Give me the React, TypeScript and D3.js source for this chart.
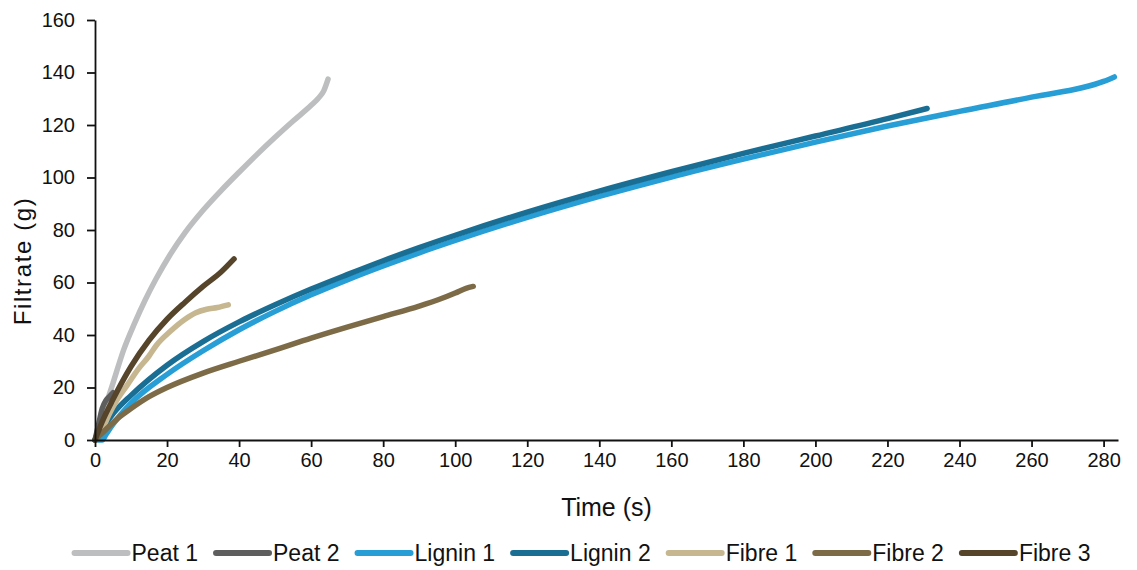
import { useEffect, useRef } from 'react'
import * as d3 from 'd3'

// time (s) / filtrate (g) readings per run
const peat1: [number, number][] = [
  [0, 0], [2, 9], [5, 21.7], [8, 34.5], [11, 44.5], [14, 53.5], [17, 61.5], [20.8, 70.5], [25, 79],
  [30, 87.5], [35, 95], [40, 102], [45, 108.8], [50, 115.3], [55, 121.5], [60, 127.5], [62, 130.2],
  [63.5, 133], [64.7, 137.5],
]
const peat2: [number, number][] = [
  [0, 0], [1, 6], [2, 12], [3, 15], [4, 16.5], [5, 18],
]
const lignin1: [number, number][] = [
  [0, 0], [2, 0], [3, 2], [5, 6], [10, 14], [20, 25], [30, 34], [40, 42], [50, 49], [60, 55.3],
  [70, 61], [80, 66.3], [90, 71.3], [100, 76], [120, 84.8], [140, 92.8], [160, 100.2], [180, 107],
  [200, 113.5], [220, 119.6], [240, 125.2], [260, 130.6], [280, 136.6], [283, 138.3],
]
const lignin2: [number, number][] = [
  [0, 0], [5, 10], [10, 17], [20, 28.5], [30, 37.5], [40, 45], [50, 51.5], [60, 57.5], [70, 63],
  [80, 68.3], [90, 73.3], [100, 78], [120, 86.8], [140, 94.8], [160, 102.2], [180, 109.2],
  [200, 115.8], [220, 122.4], [231, 126.3],
]
const fibre1: [number, number][] = [
  [0, 0], [2, 4], [4, 10], [6, 15], [9, 21], [12, 27], [15, 32], [17, 36], [21, 41.5], [25, 46],
  [28, 48.5], [31, 49.8], [34, 50.5], [37, 51.5],
]
const fibre2: [number, number][] = [
  [0, 0], [3, 4], [7, 9], [10, 12], [15, 16.5], [20, 20], [30, 25.5], [40, 30], [50, 34.3],
  [60, 38.8], [70, 43], [80, 47], [90, 51], [96, 53.8], [100, 56], [103, 57.8], [105, 58.5],
]
const fibre3: [number, number][] = [
  [0, 0], [2, 7], [5, 15.5], [10, 28], [15, 38], [20, 46], [25, 52.5], [30, 58.5], [35, 64], [38.6, 69],
]

const seriesNames = ['Peat 1', 'Peat 2', 'Lignin 1', 'Lignin 2', 'Fibre 1', 'Fibre 2', 'Fibre 3']
const seriesData = [peat1, peat2, lignin1, lignin2, fibre1, fibre2, fibre3]
const seriesColors = ['#bdbebf', '#5e5e5e', '#279ed6', '#1a6e94', '#c6b791', '#7c6b46', '#56452b']

const xTicks = d3.range(0, 281, 20)
const yTicks = d3.range(0, 161, 20)

const W = 1137
const H = 570
const FONT = 'Arial, "Liberation Sans", sans-serif'

function App() {
  const ref = useRef<SVGSVGElement | null>(null)

  useEffect(() => {
    const svg = d3.select(ref.current)
    svg.selectAll('*').remove()

    const left = 95
    const right = 1118
    const top = 20
    const bottom = 440

    const x = d3.scaleLinear().domain([0, 284]).range([left, right])
    const y = d3.scaleLinear().domain([0, 160]).range([bottom, top])

    const line = d3
      .line<[number, number]>()
      .x((d) => x(d[0]))
      .y((d) => y(d[1]))
      .curve(d3.curveMonotoneX)

    const plot = svg.append('g')
    seriesData.forEach((data, i) => {
      plot
        .append('path')
        .attr('d', line(data))
        .attr('fill', 'none')
        .attr('stroke', seriesColors[i])
        .attr('stroke-width', 5.5)
        .attr('stroke-linecap', 'round')
        .attr('stroke-linejoin', 'round')
    })

    const xAxis = svg
      .append('g')
      .attr('transform', `translate(0,${bottom})`)
      .call(d3.axisBottom(x).tickValues(xTicks).tickSize(7).tickPadding(6).tickSizeOuter(0))
    xAxis.selectAll('text').attr('font-size', 20).attr('font-family', FONT).attr('fill', '#111')
    xAxis.selectAll('path,line').attr('stroke', '#111').attr('stroke-width', 1.8)

    const yAxis = svg
      .append('g')
      .attr('transform', `translate(${left},0)`)
      .call(d3.axisLeft(y).tickValues(yTicks).tickSize(8).tickPadding(12).tickSizeOuter(0))
    yAxis.selectAll('text').attr('font-size', 20).attr('font-family', FONT).attr('fill', '#111')
    yAxis.selectAll('path,line').attr('stroke', '#111').attr('stroke-width', 1.8)

    svg
      .append('text')
      .attr('x', (left + right) / 2)
      .attr('y', 516)
      .attr('text-anchor', 'middle')
      .attr('font-family', FONT)
      .attr('font-size', 25)
      .attr('fill', '#111')
      .text('Time (s)')

    svg
      .append('text')
      .attr('transform', `translate(31,261) rotate(-90)`)
      .attr('text-anchor', 'middle')
      .attr('font-family', FONT)
      .attr('font-size', 24)
      .attr('letter-spacing', 1.6)
      .attr('fill', '#111')
      .text('Filtrate (g)')

    // legend, laid out from measured text widths
    const legend = svg.append('g')
    const lineLen = 53
    const gapText = 4
    const gapItem = 18
    const items = seriesNames.map((name, i) => {
      const g = legend.append('g')
      g.append('line')
        .attr('x1', 0)
        .attr('x2', lineLen)
        .attr('y1', 0)
        .attr('y2', 0)
        .attr('stroke', seriesColors[i])
        .attr('stroke-width', 6)
        .attr('stroke-linecap', 'round')
      const t = g
        .append('text')
        .attr('x', lineLen + gapText)
        .attr('y', 8)
        .attr('font-family', FONT)
        .attr('font-size', 23)
        .attr('fill', '#111')
        .text(name)
      const w = (t.node() as SVGTextElement).getComputedTextLength()
      return { g, width: lineLen + gapText + w }
    })
    const total = d3.sum(items, (d) => d.width) + gapItem * (items.length - 1)
    let cx = (W - total) / 2 + 14
    items.forEach((it) => {
      it.g.attr('transform', `translate(${cx},553)`)
      cx += it.width + gapItem
    })
  }, [])

  return (
    <svg
      ref={ref}
      width={W}
      height={H}
      viewBox={`0 0 ${W} ${H}`}
      style={{ position: 'absolute', left: 0, top: 0, background: '#fff' }}
    />
  )
}

export default App
